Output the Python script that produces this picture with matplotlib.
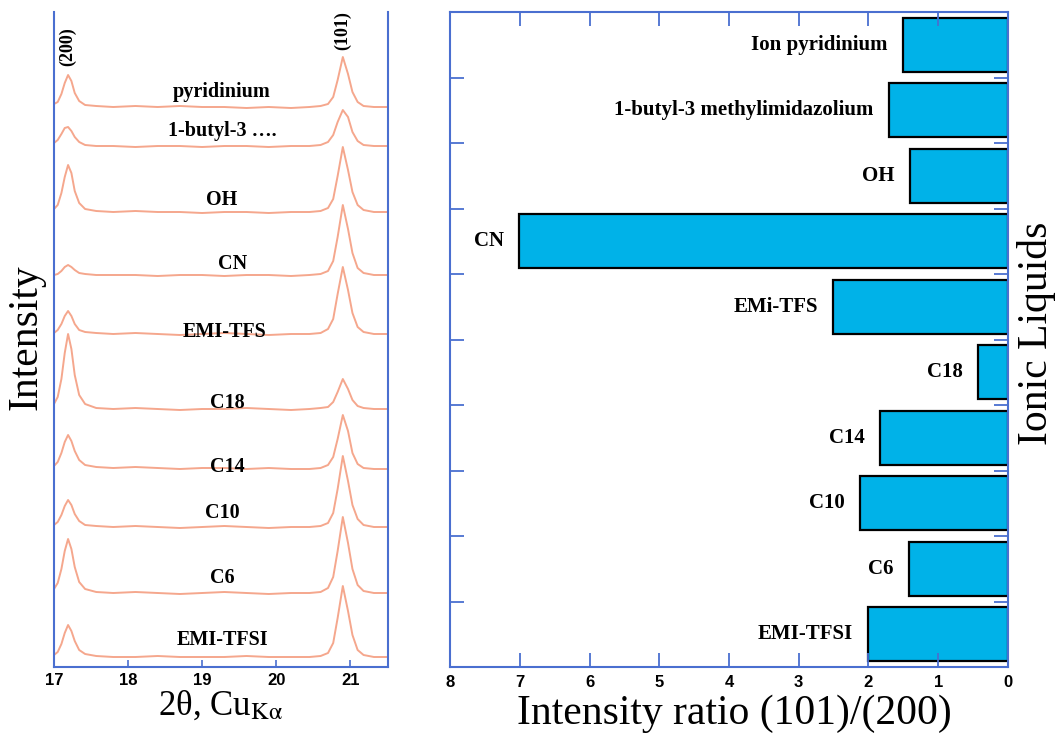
import matplotlib
matplotlib.use("Agg")
import matplotlib.pyplot as plt
import numpy as np

# ---------------- data ----------------
two_theta = [17.00, 17.05, 17.10, 17.145, 17.19, 17.235, 17.28, 17.34, 17.42, 17.57,
             17.8, 18.1, 18.4, 18.7, 19.0, 19.3, 19.6, 19.9, 20.2, 20.45,
             20.60, 20.70, 20.77, 20.83, 20.90, 20.97, 21.03, 21.10, 21.18, 21.32, 21.50]

xrd_names = ["pyridinium", "1-butyl-3 \u2026.", "OH", "CN", "EMI-TFS",
             "C18", "C14", "C10", "C6", "EMI-TFSI"]

int_pyridinium = [563, 565, 573, 584, 592, 586, 574, 566, 562, 561,
                  560, 561, 560, 561, 560, 560, 559, 560, 559, 560,
                  561, 563, 570, 587, 610, 593, 575, 565, 561, 560, 560]
int_butyl = [524, 527, 533, 539, 540, 536, 530, 525, 522, 521,
             521, 520, 521, 521, 520, 521, 521, 520, 521, 521,
             522, 525, 532, 545, 557, 550, 535, 526, 522, 521, 521]
int_oh = [458, 462, 474, 490, 502, 494, 476, 464, 458, 456,
          455, 456, 455, 455, 454, 455, 455, 454, 455, 455,
          456, 459, 468, 491, 520, 497, 475, 462, 457, 455, 455]
int_cn = [392, 393, 396, 400, 402, 400, 397, 394, 393, 392,
          392, 392, 391, 392, 392, 391, 392, 392, 391, 392,
          393, 396, 406, 430, 462, 438, 414, 399, 394, 392, 392]
int_emitfs = [334, 337, 343, 351, 356, 351, 343, 337, 335, 334,
              333, 334, 333, 332, 333, 334, 333, 332, 333, 333,
              334, 338, 348, 373, 400, 377, 354, 340, 335, 333, 333]
int_c18 = [263, 270, 288, 314, 333, 318, 292, 272, 263, 259,
           258, 259, 258, 257, 258, 258, 259, 258, 257, 258,
           259, 260, 265, 275, 288, 278, 267, 261, 259, 258, 258]
int_c14 = [201, 205, 214, 225, 232, 226, 216, 207, 202, 200,
           199, 200, 199, 198, 199, 199, 198, 199, 198, 198,
           199, 202, 210, 228, 252, 236, 214, 203, 199, 198, 198]
int_c10 = [142, 145, 152, 161, 167, 162, 153, 146, 142, 141,
           140, 141, 140, 139, 140, 141, 140, 139, 140, 140,
           141, 144, 154, 178, 211, 186, 162, 148, 142, 140, 140]
int_c6 = [78, 84, 98, 116, 128, 118, 100, 85, 78, 75,
          74, 75, 74, 73, 74, 75, 74, 73, 74, 74,
          75, 79, 90, 116, 150, 124, 98, 82, 76, 74, 74]
int_emitfsi = [12, 15, 23, 34, 42, 36, 26, 17, 13, 11,
               10, 10, 11, 10, 10, 10, 11, 10, 10, 10,
               11, 14, 24, 49, 81, 56, 32, 17, 12, 10, 10]

xrd_traces = [int_pyridinium, int_butyl, int_oh, int_cn, int_emitfs,
              int_c18, int_c14, int_c10, int_c6, int_emitfsi]
# label anchor (2theta, intensity) for each trace name
label_x = [19.27, 19.27, 19.27, 19.41, 19.30, 19.34, 19.34, 19.27, 19.27, 19.27]
label_y = [575, 536, 467, 403, 335, 264, 200, 154, 89, 27]

liquids = ["Ion pyridinium", "1-butyl-3 methylimidazolium", "OH", "CN", "EMi-TFS",
           "C18", "C14", "C10", "C6", "EMI-TFSI"]
ratio = [1.51, 1.71, 1.41, 7.01, 2.51, 0.43, 1.84, 2.12, 1.42, 2.01]

xrd_ticks = [17, 18, 19, 20, 21]
ratio_ticks = [0, 1, 2, 3, 4, 5, 6, 7, 8]

# ---------------- style ----------------
plt.rcParams['mathtext.fontset'] = 'stix'
AX_BLUE = '#4a6fd0'
TRACE = '#f5a78d'
BAR = '#00b2e8'
SERIF = 'Liberation Serif'
SANS = 'Liberation Sans'

W, H = 1059, 734
fig = plt.figure(figsize=(W / 100, H / 100), dpi=100)

def fx(px):
    return px / W

def fy(py):
    return 1 - py / H

# ---------------- left panel ----------------
axl = fig.add_axes([fx(54), fy(667), fx(388 - 54), fy(12) - fy(667)])
for tr in xrd_traces:
    axl.plot(two_theta, tr, color=TRACE, lw=1.4)
for name, lx, ly in zip(xrd_names, label_x, label_y):
    axl.text(lx, ly, name, ha='center', va='center', fontsize=14.5,
             fontweight='bold', family=SERIF)
axl.text(17.19, 620, "(200)", rotation=90, ha='center', va='center',
         fontsize=13, fontweight='bold', family=SERIF)
axl.text(20.90, 636, "(101)", rotation=90, ha='center', va='center',
         fontsize=13, fontweight='bold', family=SERIF)
axl.set_xlim(17, 21.51)
axl.set_ylim(0, 655)
axl.set_xticks(xrd_ticks)
axl.set_yticks([])
axl.spines['top'].set_visible(False)
for s in ['left', 'right', 'bottom']:
    axl.spines[s].set_color(AX_BLUE)
    axl.spines[s].set_linewidth(1.5)
axl.tick_params(axis='x', direction='in', length=5, width=1.2, color=AX_BLUE,
                pad=4, labelsize=12)
for lab in axl.get_xticklabels():
    lab.set_fontweight('bold')
    lab.set_family(SANS)

# ---------------- right panel ----------------
axr = fig.add_axes([fx(450), fy(667), fx(1008 - 450), fy(12) - fy(667)])
ypos = np.arange(len(liquids))
axr.barh(ypos, ratio, height=0.82, color=BAR, edgecolor='black', linewidth=1.6)
for y, v, name in zip(ypos, ratio, liquids):
    axr.annotate(name, (v, y), xytext=(-11, 0), textcoords='offset points',
                 ha='right', va='center', fontsize=15, fontweight='bold',
                 family=SERIF)
axr.set_xlim(8, 0)
axr.set_ylim(9.5, -0.5)
axr.set_xticks(ratio_ticks)
axr.set_yticks(ypos[:-1] + 0.5)
axr.set_yticklabels([])
for s in axr.spines.values():
    s.set_color(AX_BLUE)
    s.set_linewidth(1.5)
axr.tick_params(axis='x', direction='in', length=10, width=1.3, color=AX_BLUE,
                top=True, bottom=True, pad=6, labelsize=12)
axr.tick_params(axis='y', direction='in', length=10, width=1.3, color=AX_BLUE,
                left=True, right=True)
for lab in axr.get_xticklabels():
    lab.set_fontweight('bold')
    lab.set_family(SANS)
axr.set_axisbelow(False)

# ---------------- axis titles ----------------
fig.text(fx(26), fy(337), "Intensity", rotation=90, ha='center', va='center',
         fontsize=30, family=SERIF)
fig.text(fx(220), fy(715), "2\u03b8, Cu$_{\\mathrm{K\u03b1}}$", ha='center',
         va='baseline', fontsize=25, family=SERIF)
fig.text(fx(734), fy(724), "Intensity ratio (101)/(200)", ha='center',
         va='baseline', fontsize=30, family=SERIF)
fig.text(fx(1036), fy(333), "Ionic Liquids", rotation=90, ha='center',
         va='center', fontsize=30, family=SERIF)

fig.savefig("out.png", dpi=100)
